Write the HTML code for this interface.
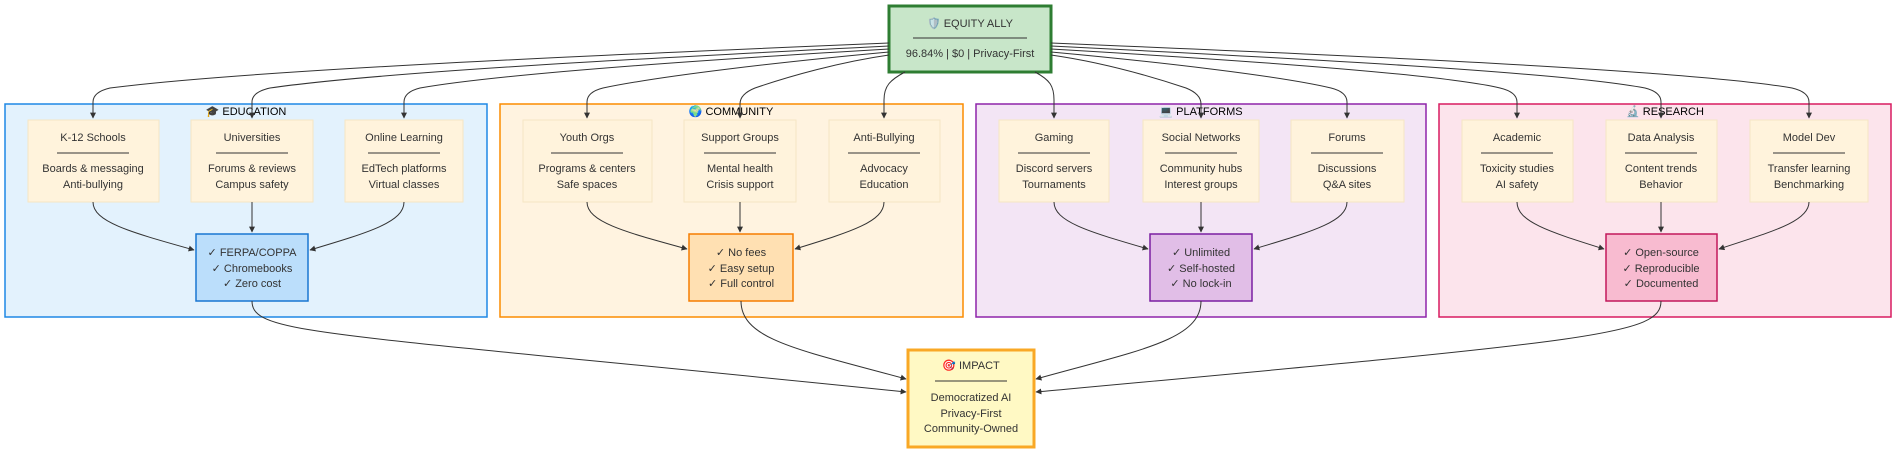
<!DOCTYPE html>
<html><head><meta charset="utf-8"><style>
html,body{margin:0;padding:0;background:#fff;width:1904px;height:454px;overflow:hidden}
svg text{font-family:"Liberation Sans","DejaVu Sans",sans-serif;font-size:11px;fill:#333;text-anchor:middle}
</style></head><body>
<svg width="1904" height="454" viewBox="0 0 1904 454" xmlns="http://www.w3.org/2000/svg">
<defs><marker id="a" viewBox="0 0 10 10" refX="9" refY="5" markerWidth="6" markerHeight="6" orient="auto"><path d="M0,0L10,5L0,10z" fill="#333"/></marker></defs>
<!-- panels -->
<rect x="5" y="104" width="482" height="213" fill="#e3f2fd" stroke="#1e88e5" stroke-width="1.5"/>
<rect x="500" y="104" width="463" height="213" fill="#fff3e0" stroke="#fb8c00" stroke-width="1.5"/>
<rect x="976" y="104" width="450" height="213" fill="#f3e5f5" stroke="#8e24aa" stroke-width="1.5"/>
<rect x="1439" y="104" width="452" height="213" fill="#fce4ec" stroke="#d81b60" stroke-width="1.5"/>
<text x="246" y="115" style="fill:#000">🎓 EDUCATION</text>
<text x="731" y="115" style="fill:#000">🌍 COMMUNITY</text>
<text x="1201" y="115" style="fill:#000">💻 PLATFORMS</text>
<text x="1665" y="115" style="fill:#000">🔬 RESEARCH</text>
<!-- inner nodes -->
<g fill="#fff3dc" stroke="#f5e6c4" stroke-width="1">
<rect x="28" y="120" width="131" height="82"/><rect x="191" y="120" width="122" height="82"/><rect x="345" y="120" width="118" height="82"/>
<rect x="523" y="120" width="129" height="82"/><rect x="684" y="120" width="112" height="82"/><rect x="829" y="120" width="111" height="82"/>
<rect x="999" y="120" width="110" height="82"/><rect x="1143" y="120" width="116" height="82"/><rect x="1291" y="120" width="113" height="82"/>
<rect x="1462" y="120" width="111" height="82"/><rect x="1606" y="120" width="111" height="82"/><rect x="1750" y="120" width="118" height="82"/>
</g>
<g stroke="#333" stroke-width="1">
<line x1="57" x2="129" y1="153" y2="153"/><line x1="216" x2="288" y1="153" y2="153"/><line x1="368" x2="440" y1="153" y2="153"/>
<line x1="551" x2="623" y1="153" y2="153"/><line x1="704" x2="776" y1="153" y2="153"/><line x1="848" x2="920" y1="153" y2="153"/>
<line x1="1018" x2="1090" y1="153" y2="153"/><line x1="1165" x2="1237" y1="153" y2="153"/><line x1="1311" x2="1383" y1="153" y2="153"/>
<line x1="1481" x2="1553" y1="153" y2="153"/><line x1="1625" x2="1697" y1="153" y2="153"/><line x1="1773" x2="1845" y1="153" y2="153"/>
</g>
<g>
<text x="93" y="141">K-12 Schools</text><text x="93" y="172">Boards &amp; messaging</text><text x="93" y="188">Anti-bullying</text>
<text x="252" y="141">Universities</text><text x="252" y="172">Forums &amp; reviews</text><text x="252" y="188">Campus safety</text>
<text x="404" y="141">Online Learning</text><text x="404" y="172">EdTech platforms</text><text x="404" y="188">Virtual classes</text>
<text x="587" y="141">Youth Orgs</text><text x="587" y="172">Programs &amp; centers</text><text x="587" y="188">Safe spaces</text>
<text x="740" y="141">Support Groups</text><text x="740" y="172">Mental health</text><text x="740" y="188">Crisis support</text>
<text x="884" y="141">Anti-Bullying</text><text x="884" y="172">Advocacy</text><text x="884" y="188">Education</text>
<text x="1054" y="141">Gaming</text><text x="1054" y="172">Discord servers</text><text x="1054" y="188">Tournaments</text>
<text x="1201" y="141">Social Networks</text><text x="1201" y="172">Community hubs</text><text x="1201" y="188">Interest groups</text>
<text x="1347" y="141">Forums</text><text x="1347" y="172">Discussions</text><text x="1347" y="188">Q&amp;A sites</text>
<text x="1517" y="141">Academic</text><text x="1517" y="172">Toxicity studies</text><text x="1517" y="188">AI safety</text>
<text x="1661" y="141">Data Analysis</text><text x="1661" y="172">Content trends</text><text x="1661" y="188">Behavior</text>
<text x="1809" y="141">Model Dev</text><text x="1809" y="172">Transfer learning</text><text x="1809" y="188">Benchmarking</text>
</g>
<!-- summary nodes -->
<rect x="196" y="234" width="112" height="67" fill="#bbdefb" stroke="#1976d2" stroke-width="1.5"/>
<rect x="689" y="234" width="104" height="67" fill="#ffe0b2" stroke="#f57c00" stroke-width="1.5"/>
<rect x="1150" y="234" width="102" height="67" fill="#e1bee7" stroke="#7b1fa2" stroke-width="1.5"/>
<rect x="1606" y="234" width="111" height="67" fill="#f8bbd0" stroke="#c2185b" stroke-width="1.5"/>
<text x="252" y="256">✓ FERPA/COPPA</text><text x="252" y="272">✓ Chromebooks</text><text x="252" y="287">✓ Zero cost</text>
<text x="741" y="256">✓ No fees</text><text x="741" y="272">✓ Easy setup</text><text x="741" y="287">✓ Full control</text>
<text x="1201" y="256">✓ Unlimited</text><text x="1201" y="272">✓ Self-hosted</text><text x="1201" y="287">✓ No lock-in</text>
<text x="1661" y="256">✓ Open-source</text><text x="1661" y="272">✓ Reproducible</text><text x="1661" y="287">✓ Documented</text>
<!-- top node -->
<rect x="889" y="6" width="162" height="66" fill="#c8e6c9" stroke="#2e7d32" stroke-width="3"/>
<text x="970" y="27">🛡️ EQUITY ALLY</text>
<line x1="913" x2="1027" y1="38" y2="38" stroke="#333"/>
<text x="970" y="57">96.84% | $0 | Privacy-First</text>
<!-- impact -->
<rect x="908" y="350" width="126" height="97" fill="#fff9c4" stroke="#f9a825" stroke-width="3"/>
<text x="971" y="369">🎯 IMPACT</text>
<line x1="935" x2="1007" y1="381" y2="381" stroke="#333"/>
<text x="971" y="401">Democratized AI</text><text x="971" y="417">Privacy-First</text><text x="971" y="432">Community-Owned</text>
<!-- edges -->
<g fill="none" stroke="#333" stroke-width="1" marker-end="url(#a)">
<path d="M889,43 C600,55 250,70 110,88 Q93,92 93,102 L93,118"/>
<path d="M889,46 C650,58 380,72 270,88 Q252,92 252,102 L252,118"/>
<path d="M889,49 C700,60 500,74 420,88 Q404,92 404,102 L404,118"/>
<path d="M889,52 C780,62 660,76 603,88 Q587,92 587,102 L587,118"/>
<path d="M889,55 C840,62 790,76 755,88 Q740,94 740,104 L740,118"/>
<path d="M905,72 C890,80 884,86 884,100 L884,118"/>
<path d="M1035,72 C1050,80 1054,86 1054,100 L1054,118"/>
<path d="M1051,55 C1100,62 1150,76 1186,88 Q1201,94 1201,104 L1201,118"/>
<path d="M1051,52 C1160,62 1280,76 1331,88 Q1347,92 1347,102 L1347,118"/>
<path d="M1051,49 C1240,60 1440,74 1500,88 Q1517,92 1517,102 L1517,118"/>
<path d="M1051,46 C1290,58 1560,72 1645,88 Q1661,92 1661,102 L1661,118"/>
<path d="M1051,43 C1340,55 1690,70 1792,88 Q1809,92 1809,102 L1809,118"/>
<path d="M93,202 C93,222 130,232 194,250"/>
<path d="M252,202 L252,232"/>
<path d="M404,202 C404,222 370,232 310,250"/>
<path d="M587,202 C587,222 625,232 687,249"/>
<path d="M740,202 L740,232"/>
<path d="M884,202 C884,222 850,232 795,249"/>
<path d="M1054,202 C1054,222 1090,232 1148,249"/>
<path d="M1201,202 L1201,232"/>
<path d="M1347,202 C1347,222 1310,232 1254,249"/>
<path d="M1517,202 C1517,222 1550,232 1604,249"/>
<path d="M1661,202 L1661,232"/>
<path d="M1809,202 C1809,222 1770,232 1719,249"/>
<path d="M252,301 C252,335 320,332 906,392"/>
<path d="M741,301 C741,340 800,350 906,379"/>
<path d="M1201,301 C1201,340 1140,350 1036,379"/>
<path d="M1661,301 C1661,335 1600,340 1036,392"/>
</g>
</svg>
</body></html>
